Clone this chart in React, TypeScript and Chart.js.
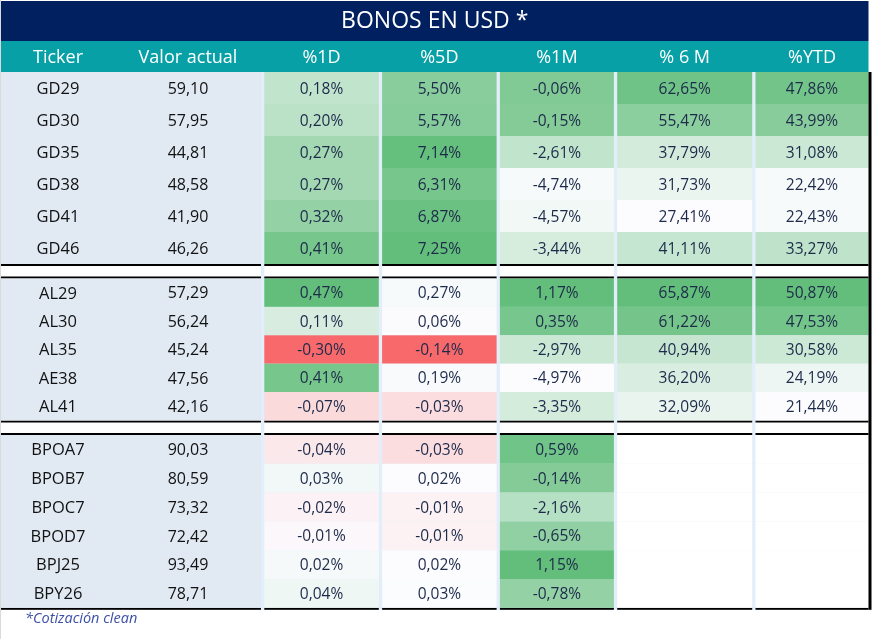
import React, { useEffect, useRef } from 'react';
import { Chart, registerables } from 'chart.js';

Chart.register(...registerables);

// ---------------- data ----------------
const TITLE = 'BONOS EN USD *';
const FOOTNOTE = '*Cotización clean';
const HEADERS = ['Ticker', 'Valor actual', '%1D', '%5D', '%1M', '% 6 M', '%YTD'];

const GD_TICKERS = ['GD29', 'GD30', 'GD35', 'GD38', 'GD41', 'GD46'];
const GD_VALOR = [59.10, 57.95, 44.81, 48.58, 41.90, 46.26];
const GD_1D = [0.18, 0.20, 0.27, 0.27, 0.32, 0.41];
const GD_5D = [5.50, 5.57, 7.14, 6.31, 6.87, 7.25];
const GD_1M = [-0.06, -0.15, -2.61, -4.74, -4.57, -3.44];
const GD_6M = [62.65, 55.47, 37.79, 31.73, 27.41, 41.11];
const GD_YTD = [47.86, 43.99, 31.08, 22.42, 22.43, 33.27];

const AL_TICKERS = ['AL29', 'AL30', 'AL35', 'AE38', 'AL41'];
const AL_VALOR = [57.29, 56.24, 45.24, 47.56, 42.16];
const AL_1D = [0.47, 0.11, -0.30, 0.41, -0.07];
const AL_5D = [0.27, 0.06, -0.14, 0.19, -0.03];
const AL_1M = [1.17, 0.35, -2.97, -4.97, -3.35];
const AL_6M = [65.87, 61.22, 40.94, 36.20, 32.09];
const AL_YTD = [50.87, 47.53, 30.58, 24.19, 21.44];

const BP_TICKERS = ['BPOA7', 'BPOB7', 'BPOC7', 'BPOD7', 'BPJ25', 'BPY26'];
const BP_VALOR = [90.03, 80.59, 73.32, 72.42, 93.49, 78.71];
const BP_1D = [-0.04, 0.03, -0.02, -0.01, 0.02, 0.04];
const BP_5D = [-0.03, 0.02, -0.01, -0.01, 0.02, 0.03];
const BP_1M = [0.59, -0.14, -2.16, -0.65, 1.15, -0.78];
const BP_6M: (number | null)[] = [null, null, null, null, null, null];
const BP_YTD: (number | null)[] = [null, null, null, null, null, null];

// table built from the arrays above
const BLOCKS = [
  { tickers: GD_TICKERS, valor: GD_VALOR, cols: [GD_1D, GD_5D, GD_1M, GD_6M, GD_YTD] },
  { tickers: AL_TICKERS, valor: AL_VALOR, cols: [AL_1D, AL_5D, AL_1M, AL_6M, AL_YTD] },
  { tickers: BP_TICKERS, valor: BP_VALOR, cols: [BP_1D, BP_5D, BP_1M, BP_6M, BP_YTD] },
];
// colour-scale type per percentage column
const SCALE_KIND = ['div', 'div', 'seq', 'seq', 'seq'];

// ---------------- layout (scale units) ----------------
const W = 872;
const H = 639;
const TABLE_LEFT = 1;
const COL_WIDTHS = [114, 146, 114.5, 114.5, 114, 135, 113];
const SEP = 3.3;
const TITLE_TOP = 1;
const TITLE_H = 40;
const HEADER_H = 31;
const BLOCK_ROW_H = [32, 28.4, 28.8];
const LINE_W = 2;
const GAP_H = 10.5;
const BORDER_W = 3;

const NAVY = '#002060';
const TEAL = '#07A0A6';
const SEP_COLOR = '#E2EEFA';
const LABEL_BG = '#E1E9F3';
const NUM_COLOR = '#1D2A4A';
const LABEL_COLOR = '#121212';
const FONT = '"Open Sans", "DejaVu Sans", sans-serif';

const WHITE_RGB = [252, 252, 255];
const GREEN_RGB = [99, 190, 123];
const RED_RGB = [248, 105, 107];

function mix(a: number[], b: number[], t: number) {
  const c = a.map((v, i) => Math.round(v + (b[i] - v) * t));
  return `rgb(${c[0]},${c[1]},${c[2]})`;
}

function colStats(ci: number) {
  const vals: number[] = [];
  BLOCKS.forEach((b) => b.cols[ci].forEach((v) => { if (v !== null && v !== undefined) vals.push(v as number); }));
  return { min: Math.min(...vals), max: Math.max(...vals) };
}

function cellColor(v: number | null, ci: number) {
  if (v === null || v === undefined) return '#FFFFFF';
  const { min, max } = colStats(ci);
  if (SCALE_KIND[ci] === 'div') {
    if (v >= 0) return mix(WHITE_RGB, GREEN_RGB, max > 0 ? v / max : 0);
    return mix(WHITE_RGB, RED_RGB, min < 0 ? v / min : 0);
  }
  return mix(WHITE_RGB, GREEN_RGB, (v - min) / (max - min));
}

const fmt = (v: number) => v.toFixed(2).replace('.', ',');

function columnEdges() {
  const edges: { l: number; r: number }[] = [];
  let x = TABLE_LEFT;
  COL_WIDTHS.forEach((w, i) => {
    if (i >= 2) x += SEP;
    edges.push({ l: x, r: x + w });
    x += w;
  });
  return edges;
}

const tablePlugin = {
  id: 'bondTable',
  beforeDraw(chart: any) {
    const { ctx } = chart;
    const xs = chart.scales.x;
    const ys = chart.scales.y;
    const X = (v: number) => xs.getPixelForValue(v);
    const Y = (v: number) => ys.getPixelForValue(v);
    const rect = (l: number, t: number, r: number, b: number, color: string) => {
      ctx.fillStyle = color;
      ctx.fillRect(X(l), Y(t), X(r) - X(l), Y(b) - Y(t));
    };
    const text = (s: string, cx: number, cy: number, size: number, color: string, opts: any = {}) => {
      ctx.font = `${opts.italic ? 'italic ' : ''}${size}px ${FONT}`;
      ctx.fillStyle = color;
      ctx.textAlign = opts.align || 'center';
      ctx.textBaseline = 'alphabetic';
      ctx.fillText(s, X(cx), Y(cy) + size * 0.357);
    };

    const cols = columnEdges();
    const tableRight = cols[cols.length - 1].r;

    ctx.save();
    rect(0, 0, W, H, '#FFFFFF');
    rect(0, 0, 1, H, '#DADADA');

    // title
    rect(TABLE_LEFT, TITLE_TOP, tableRight, TITLE_TOP + TITLE_H, NAVY);
    text(TITLE, (TABLE_LEFT + tableRight) / 2, TITLE_TOP + TITLE_H / 2 - 1.5, 23, '#FFFFFF');

    // header
    const hTop = TITLE_TOP + TITLE_H;
    rect(TABLE_LEFT, hTop, tableRight, hTop + HEADER_H, TEAL);
    HEADERS.forEach((h, i) => text(h, (cols[i].l + cols[i].r) / 2, hTop + HEADER_H / 2, 18, '#FFFFFF'));

    // body
    const bodyTop = hTop + HEADER_H;
    let y = bodyTop;
    const segments: { top: number; bottom: number; block: number }[] = [];
    BLOCKS.forEach((b, bi) => {
      if (bi > 0) y += LINE_W + GAP_H + LINE_W;
      const top = y;
      y += b.tickers.length * BLOCK_ROW_H[bi];
      segments.push({ top, bottom: y, block: bi });
    });
    const bodyBottom = y + LINE_W;

    rect(cols[1].r, bodyTop, tableRight, bodyBottom, SEP_COLOR);
    // white gaps + black lines per column
    segments.forEach((s, si) => {
      const lineTopNeeded = si > 0;
      cols.forEach((c, ci) => {
        const l = ci === 1 ? cols[0].r : c.l;
        const r = c.r;
        if (si < segments.length - 1) {
          rect(l, s.bottom, r, segments[si + 1].top, '#FFFFFF');
        }
        rect(l, s.bottom, r, s.bottom + LINE_W, '#000000');
        if (lineTopNeeded) rect(l, s.top - LINE_W, r, s.top, '#000000');
      });
    });

    segments.forEach((s) => {
      const b = BLOCKS[s.block];
      const rh = BLOCK_ROW_H[s.block];
      rect(cols[0].l, s.top, cols[1].r, s.bottom, LABEL_BG);
      b.tickers.forEach((t, ri) => {
        const rt = s.top + ri * rh;
        const cy = rt + rh / 2;
        text(t, (cols[0].l + cols[0].r) / 2, cy, 16.5, LABEL_COLOR);
        text(fmt(b.valor[ri]), (cols[1].l + cols[1].r) / 2, cy, 16, LABEL_COLOR);
        b.cols.forEach((arr, ci) => {
          const c = cols[ci + 2];
          const v = arr[ri] as number | null;
          rect(c.l, rt, c.r, rt + rh, cellColor(v, ci));
          if (v !== null && v !== undefined) {
            text(fmt(v) + '%', (c.l + c.r) / 2, cy, 15.5, NUM_COLOR);
          }
        });
      });
    });

    // right border
    rect(tableRight, bodyTop, tableRight + BORDER_W, bodyBottom, '#000000');

    // footnote
    text(FOOTNOTE, 25, bodyBottom + 8.5, 14.5, '#3C4FA6', { italic: true, align: 'left' });
    ctx.restore();
  },
};

export default function App() {
  const canvasRef = useRef<HTMLCanvasElement | null>(null);

  useEffect(() => {
    document.body.style.margin = '0';
    const canvas = canvasRef.current;
    if (!canvas) return;
    const chart = new Chart(canvas, {
      type: 'scatter',
      data: { datasets: [] },
      options: {
        responsive: false,
        maintainAspectRatio: false,
        animation: false,
        devicePixelRatio: 1,
        events: [],
        layout: { padding: 0 },
        plugins: {
          legend: { display: false },
          tooltip: { enabled: false },
          title: { display: false },
        },
        scales: {
          x: { type: 'linear', min: 0, max: W, display: false },
          y: { type: 'linear', min: 0, max: H, reverse: true, display: false },
        },
      },
      plugins: [tablePlugin],
    });
    return () => chart.destroy();
  }, []);

  return (
    <div style={{ position: 'absolute', left: 0, top: 0, width: W, height: H, background: '#fff' }}>
      <canvas ref={canvasRef} width={W} height={H} style={{ display: 'block', width: W, height: H }} />
    </div>
  );
}
